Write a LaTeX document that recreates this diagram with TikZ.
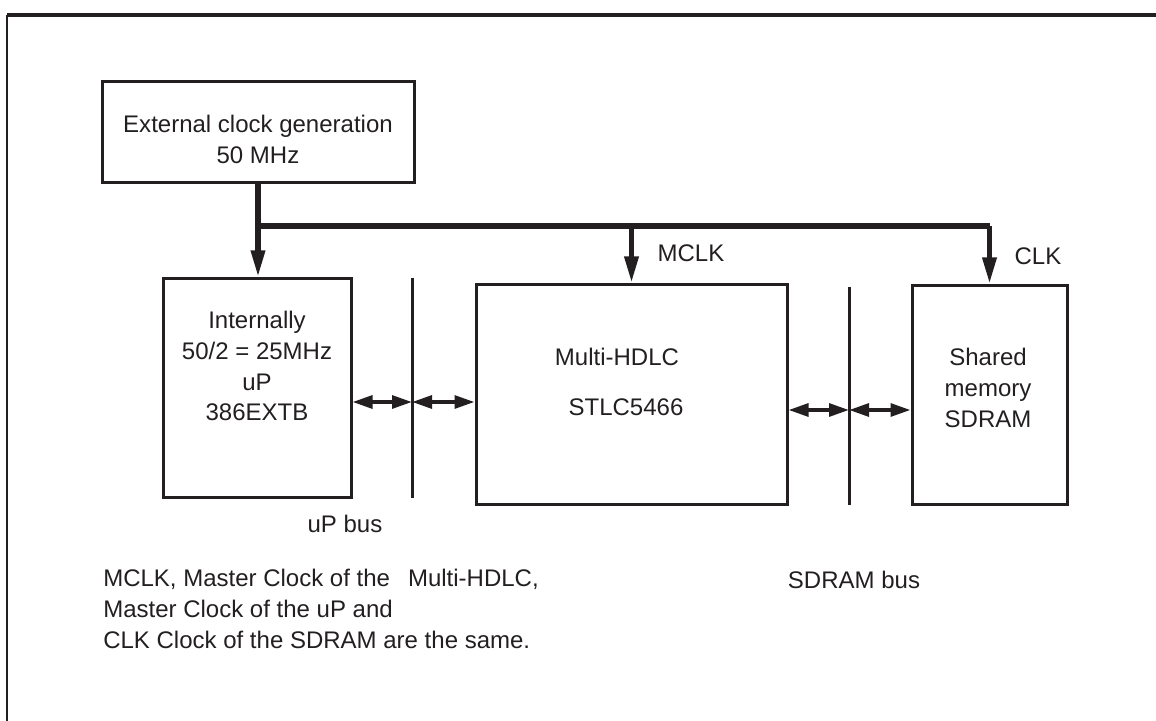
\documentclass[tikz,border=0pt]{standalone}
\usepackage{fontspec}
\setmainfont{Liberation Sans}
\usetikzlibrary{arrows.meta}
\definecolor{ink}{HTML}{231F20}

\begin{document}
\begin{tikzpicture}[x=0.025cm, y=-0.025cm,
  every node/.style = {font=\fontsize{17.07pt}{22pt}\selectfont, text=ink, inner sep=0pt},
  block/.style = {draw=ink, line width=0.075cm, minimum width=#1*0.025cm},
  txt/.style = {align=center},
  clkline/.style = {draw=ink, line width=0.14cm, line join=miter},
  clkarrow/.style = {clkline, -{Triangle[length=0.675cm, width=0.33cm]}},
  busline/.style = {draw=ink, line width=0.075cm},
  duplex/.style = {draw=ink, line width=0.09cm,
    {Triangle[length=0.5cm, width=0.32cm]}-{Triangle[length=0.5cm, width=0.32cm]}}]
\useasboundingbox (0,0) rectangle (1156,721);

% frame
\draw[ink, line width=0.1cm] (7,15) -- (1160,15);
\draw[ink, line width=0.05cm] (7,15) -- (7,725);

% blocks
\node[block=312, minimum height=2.5cm] (clk) at (258,132) {};
\node[block=188, minimum height=5.45cm] (up) at (257,388) {};
\node[block=311, minimum height=5.475cm] (multi) at (631.5,394.5) {};
\node[block=155, minimum height=5.45cm] (mem) at (989.5,395) {};

\node[txt] (clktxt) at (258,139) {External clock generation\\50 MHz};
\node[txt] (uptxt) at (257,366) {Internally\\50/2 = 25MHz\\uP\\386EXTB};
\node (multitxt) at (617,357) {Multi-HDLC};
\node (chiptxt) at (626,407) {STLC5466};
\node[txt] (memtxt) at (988,388) {Shared\\memory\\SDRAM};

% clock distribution
\coordinate (j) at (258,226);
\draw[clkarrow] (clk.south) -- (clk.south |- up.north);
\draw[clkline] (j) -- (989.5,226);
\draw[clkarrow] (multi.north |- j) -- (multi.north);
\draw[clkarrow] (989.5,226) -- (mem.north);
\node (mclk) at (691,253) {MCLK};
\node (clklbl) at (1038,256) {CLK};

% buses
\coordinate (ubt) at (412,278);
\coordinate (ubb) at (412,498);
\coordinate (sbt) at (849,287);
\coordinate (sbb) at (849,505);
\draw[busline] (ubt) -- (ubb);
\draw[busline] (sbt) -- (sbb);

\coordinate (ua) at (412,402);
\coordinate (sa) at (849,410);
\draw[duplex] (up.east |- ua) -- (ua);
\draw[duplex] (ua) -- (multi.west |- ua);
\draw[duplex] (multi.east |- sa) -- (sa);
\draw[duplex] (sa) -- (mem.west |- sa);

\node (upbus) at (345,524) {uP bus};
\node (sdbus) at (854,580) {SDRAM bus};

% note
\node[align=left, anchor=west] (note) at (103,609)
  {MCLK, Master Clock of the\hspace{0.45cm}Multi-HDLC,\\
   Master Clock of the uP and\\
   CLK Clock of the SDRAM are the same.};
\end{tikzpicture}
\end{document}
